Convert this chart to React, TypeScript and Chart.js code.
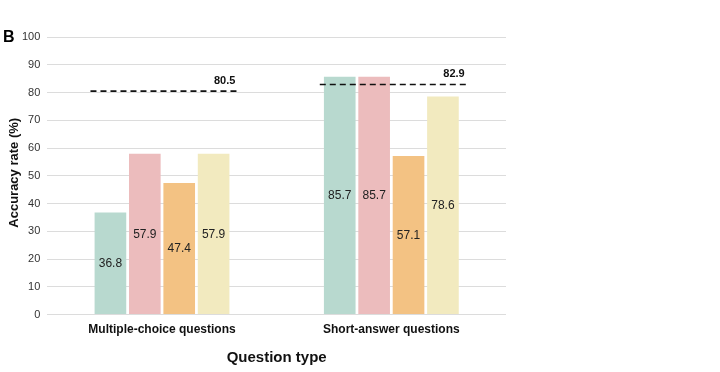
import React, { useEffect, useRef } from "react";
import { Chart, registerables } from "chart.js";

Chart.register(...registerables);

const categories = ["Multiple-choice questions", "Short-answer questions"];
const seriesA = [36.8, 85.7];
const seriesB = [57.9, 85.7];
const seriesC = [47.4, 57.1];
const seriesD = [57.9, 78.6];
const averages = [80.5, 82.9];
const colors = ["#b8d9cf", "#ecbcbd", "#f3c283", "#f2eabf"];
const yTitle = "Accuracy rate (%)";

const FONT = "Liberation Sans, Arial, sans-serif";

const overlayPlugin = {
  id: "overlay",
  afterDatasetsDraw(chart: any) {
    const ctx = chart.ctx;
    const x = chart.scales.x;
    const y = chart.scales.y;
    ctx.save();
    ctx.font = `12px ${FONT}`;
    ctx.fillStyle = "#222";
    ctx.textAlign = "center";
    ctx.textBaseline = "middle";
    chart.data.datasets.forEach((ds: any, di: number) => {
      const meta = chart.getDatasetMeta(di);
      meta.data.forEach((bar: any, i: number) => {
        const v = ds.data[i];
        const yp = y.getPixelForValue(v / 2);
        ctx.fillText(v.toFixed(1), bar.x, yp);
      });
    });
    const catW = (x.right - x.left) / categories.length;
    averages.forEach((a: number, i: number) => {
      const cx = x.getPixelForValue(i);
      const yp = y.getPixelForValue(a);
      const x0 = cx - catW * 0.312;
      const x1 = cx + catW * 0.33;
      ctx.beginPath();
      ctx.setLineDash([6, 4]);
      ctx.lineWidth = 1.6;
      ctx.strokeStyle = "#111";
      ctx.moveTo(x0, yp);
      ctx.lineTo(x1, yp);
      ctx.stroke();
      ctx.setLineDash([]);
      ctx.font = `bold 11px ${FONT}`;
      ctx.fillStyle = "#111";
      ctx.textAlign = "center";
      ctx.textBaseline = "bottom";
      ctx.fillText(a.toFixed(1), x1 - 13, yp - 5);
    });
    // y-axis title
    ctx.save();
    ctx.translate(14, (y.top + y.bottom) / 2 - 3);
    ctx.rotate(-Math.PI / 2);
    ctx.font = `bold 13px ${FONT}`;
    ctx.fillStyle = "#111";
    ctx.textAlign = "center";
    ctx.textBaseline = "middle";
    ctx.fillText(yTitle, 0, 0);
    ctx.restore();
    // panel letter
    ctx.font = `bold 16px ${FONT}`;
    ctx.fillStyle = "#000";
    ctx.textAlign = "left";
    ctx.textBaseline = "middle";
    ctx.fillText("B", 3, 38);
    ctx.restore();
  },
};

export default function App() {
  const ref = useRef<HTMLCanvasElement | null>(null);
  useEffect(() => {
    if (!ref.current) return;
    const mk = (label: string, data: number[], c: string) => ({
      label,
      data,
      backgroundColor: c,
      borderWidth: 0,
      categoryPercentage: 0.6,
      barPercentage: 0.92,
    });
    const chart = new Chart(ref.current, {
      type: "bar",
      data: {
        labels: categories,
        datasets: [
          mk("A", seriesA, colors[0]),
          mk("B", seriesB, colors[1]),
          mk("C", seriesC, colors[2]),
          mk("D", seriesD, colors[3]),
        ],
      },
      options: {
        animation: false,
        responsive: false,
        layout: { padding: { left: 15, right: 214, top: 37, bottom: 5 } },
        plugins: { legend: { display: false }, tooltip: { enabled: false } },
        scales: {
          x: {
            grid: { display: false },
            border: { display: false },
            ticks: {
              font: { family: FONT, size: 12, weight: "bold" },
              color: "#111",
              padding: 0,
            },
            title: {
              display: true,
              text: "Question type",
              font: { family: FONT, size: 15, weight: "bold" },
              color: "#111",
              padding: { top: 12, bottom: 0 },
            },
          },
          y: {
            min: 0,
            max: 100,
            ticks: {
              stepSize: 10,
              font: { family: FONT, size: 11 },
              color: "#333",
              padding: 7,
            },
            grid: { color: "#dcdcdc", drawTicks: false, lineWidth: 1 },
            border: { display: false },
          },
        },
      },
      plugins: [overlayPlugin],
    });
    return () => chart.destroy();
  }, []);
  return (
    <div style={{ position: "absolute", left: 0, top: 0, width: 720, height: 372, background: "#fff" }}>
      <canvas ref={ref} width={720} height={372} style={{ display: "block" }} />
    </div>
  );
}
